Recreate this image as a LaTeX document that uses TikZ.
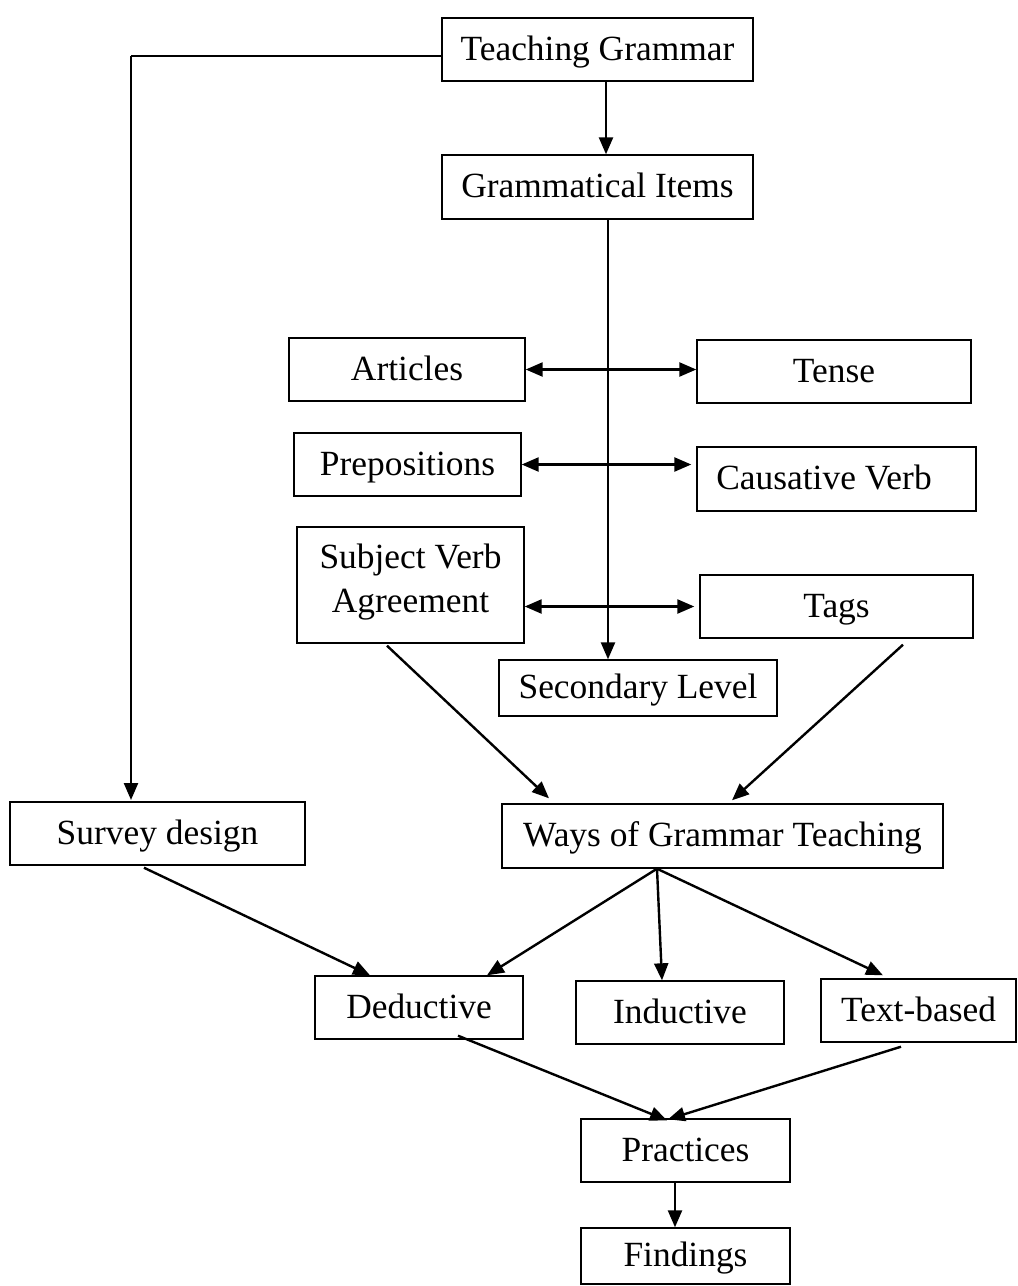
\documentclass[tikz,border=0pt]{standalone}
\usepackage{fontspec}
\setmainfont{Liberation Serif}
\usetikzlibrary{arrows.meta}
\begin{document}
\begin{tikzpicture}[x=0.5pt,y=-0.5pt,
  box/.style={draw, line width=0.7pt, inner sep=0pt, align=center,
    text height=14pt, text depth=3.5pt,
    font=\fontsize{17.7}{22}\selectfont},
  tip/.tip={Triangle[length=8.5pt,width=7pt]},
  arr/.style={line width=1.2pt, -tip},
  dbl/.style={line width=1.2pt, tip-tip},
  plain/.style={line width=0.9pt}]
\fill[white] (0,0) rectangle (1018,1286);
\useasboundingbox (0,0) rectangle (1018,1286);

\node[box, minimum width=155.5pt, minimum height=31.5pt] (tg) at (597.5,49.5) {Teaching Grammar};
\node[box, minimum width=155.5pt, minimum height=32pt] (gi) at (597.5,187) {Grammatical Items};
\node[box, minimum width=118pt, minimum height=31.5pt] (art) at (407,369.5) {Articles};
\node[box, minimum width=137pt, minimum height=31.5pt] (tense) at (834,371.5) {Tense};
\node[box, minimum width=113.5pt, minimum height=31.5pt] (prep) at (407.5,464.5) {Prepositions};
\node[box, minimum width=139.5pt, minimum height=32pt] (caus) at (836.5,479) {Causative Verb\hspace*{12.5pt}};
\node[box, text height=36pt, text depth=9pt, minimum width=113.5pt, minimum height=58pt] (sva) at (410.5,585) {Subject Verb\\Agreement};
\node[box, minimum width=136.5pt, minimum height=31.5pt] (tags) at (836.5,606.5) {Tags};
\node[box, minimum width=139pt, minimum height=28pt] (sec) at (638,688) {Secondary Level};
\node[box, minimum width=147.5pt, minimum height=31.5pt] (sd) at (157.5,833.5) {Survey design};
\node[box, minimum width=220.5pt, minimum height=32pt] (wgt) at (722.5,836) {Ways of Grammar Teaching};
\node[box, minimum width=104pt, minimum height=31.5pt] (ded) at (419,1007.5) {Deductive};
\node[box, minimum width=104pt, minimum height=31.5pt] (ind) at (680,1012.5) {Inductive};
\node[box, minimum width=97.5pt, minimum height=31.5pt] (tb) at (918.5,1010.5) {Text-based};
\node[box, minimum width=104.5pt, minimum height=31.5pt] (prac) at (685.5,1150.5) {Practices};
\node[box, minimum width=104.5pt, minimum height=28pt] (find) at (685.5,1256) {Findings};

% left branch
\coordinate (c1) at (131,56);
\coordinate (c2) at (131,800);
\draw[plain] (tg.west |- c1) -- (c1);
\draw[arr] (c1) -- (c2);

% main spine
\draw[arr] ([xshift=4.25pt]tg.south) -- ([xshift=4.25pt]gi.north);
\coordinate (vx) at (608,0);
\draw[arr] (gi.south -| vx) -- (sec.north -| vx);

% double arrows
\draw[dbl] (art.east) -- (art.east -| tense.west);
\draw[dbl] (prep.east) -- ([xshift=-2.5pt]prep.east -| caus.west);
\draw[dbl] (tags.west -| sva.east) -- ([xshift=-2.5pt]tags.west);

% into Ways of Grammar Teaching
\draw[arr] ([xshift=-11.75pt,yshift=-1pt]sva.south) -- ([xshift=-86.75pt,yshift=2.5pt]wgt.north);
\draw[arr] ([xshift=33.25pt,yshift=-3pt]tags.south) -- ([xshift=4.75pt,yshift=1.5pt]wgt.north);

% fan out
\coordinate (fan) at ([xshift=-32.75pt]wgt.south);
\draw[arr] (fan) -- ([xshift=34pt]ded.north);
\draw[arr] (fan) -- ([xshift=-9pt]ind.north);
\draw[arr] (fan) -- ([xshift=-17.75pt,yshift=1.5pt]tb.north);
\draw[arr] ([xshift=-6.75pt,yshift=-1pt]sd.south) -- ([xshift=-24.5pt]ded.north);

% into Practices
\draw[arr] ([xshift=19.5pt,yshift=2pt]ded.south) -- ([xshift=-9.25pt,yshift=-1pt]prac.north);
\draw[arr] ([xshift=-8.75pt,yshift=-2pt]tb.south) -- ([xshift=-8.75pt,yshift=-0.5pt]prac.north);
\draw[arr] ([xshift=-5.25pt]prac.south) -- ([xshift=-5.25pt]find.north);
\end{tikzpicture}
\end{document}
